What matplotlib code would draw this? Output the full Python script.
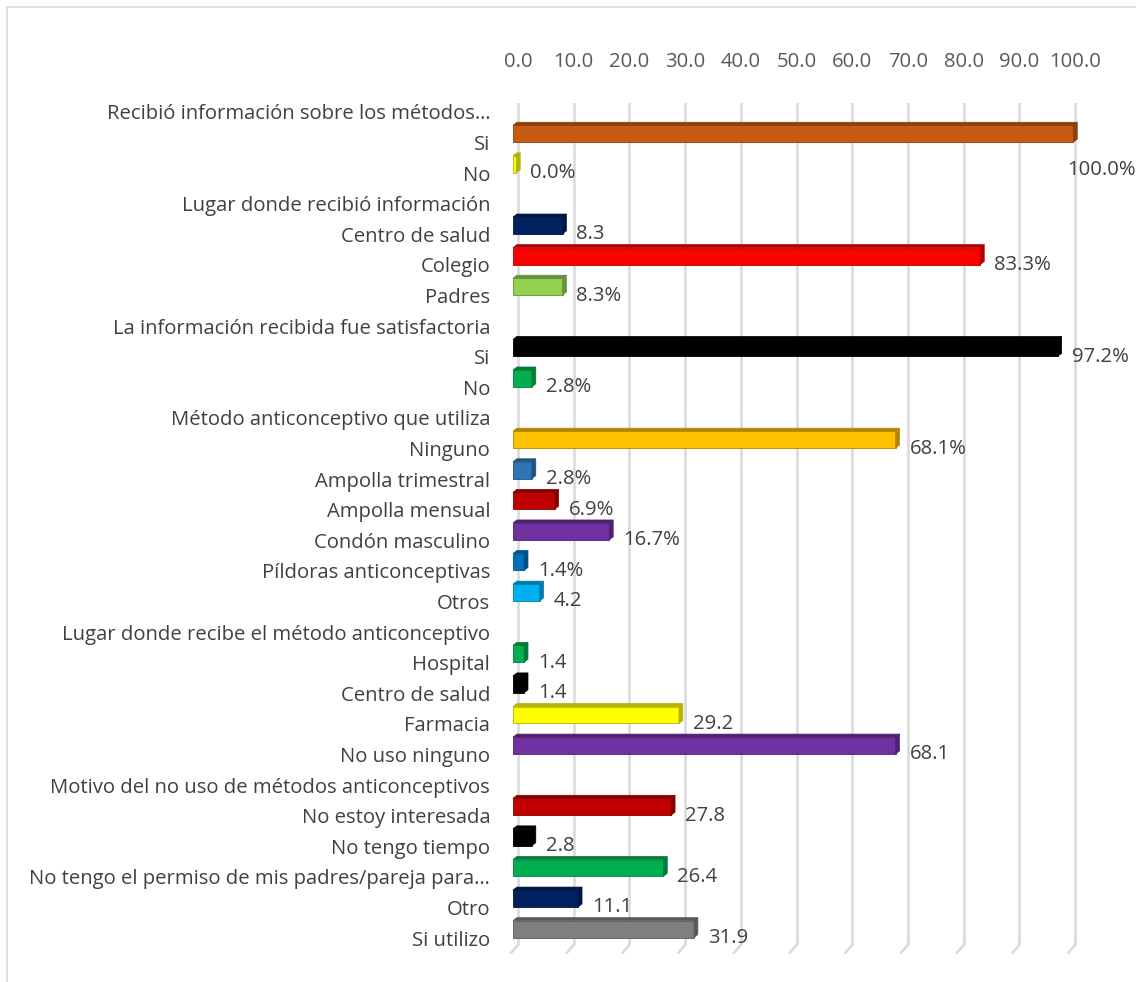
import matplotlib
matplotlib.use("Agg")
import matplotlib.pyplot as plt
from matplotlib.patches import Polygon, Rectangle
from matplotlib.lines import Line2D
import matplotlib.colors as mcolors

plt.rcParams['font.family'] = ['Open Sans', 'DejaVu Sans']

categories = [
    'Recibió información sobre los métodos…', 'Si', 'No',
    'Lugar donde recibió información', 'Centro de salud', 'Colegio', 'Padres',
    'La información recibida fue satisfactoria', 'Si', 'No',
    'Método anticonceptivo que utiliza', 'Ninguno', 'Ampolla trimestral',
    'Ampolla mensual', 'Condón masculino', 'Píldoras anticonceptivas', 'Otros',
    'Lugar donde recibe el método anticonceptivo', 'Hospital', 'Centro de salud',
    'Farmacia', 'No uso ninguno',
    'Motivo del no uso de métodos anticonceptivos', 'No estoy interesada',
    'No tengo tiempo', 'No tengo el permiso de mis padres/pareja para…',
    'Otro', 'Si utilizo',
]
# None = section header row (no bar)
values = [
    None, 100.0, 0.0,
    None, 8.3, 83.3, 8.3,
    None, 97.2, 2.8,
    None, 68.1, 2.8, 6.9, 16.7, 1.4, 4.2,
    None, 1.4, 1.4, 29.2, 68.1,
    None, 27.8, 2.8, 26.4, 11.1, 31.9,
]
labels = [
    None, '100.0%', '0.0%',
    None, '8.3', '83.3%', '8.3%',
    None, '97.2%', '2.8%',
    None, '68.1%', '2.8%', '6.9%', '16.7%', '1.4%', '4.2',
    None, '1.4', '1.4', '29.2', '68.1',
    None, '27.8', '2.8', '26.4', '11.1', '31.9',
]
colors = [
    None, '#C55A11', '#FFFF00',
    None, '#002060', '#FF0000', '#92D050',
    None, '#000000', '#00B050',
    None, '#FFC000', '#2E75B6', '#C00000', '#7030A0', '#0070C0', '#00B0F0',
    None, '#00B050', '#000000', '#FFFF00', '#7030A0',
    None, '#C00000', '#000000', '#00B050', '#002060', '#7F7F7F',
]
ticks = [0, 10, 20, 30, 40, 50, 60, 70, 80, 90, 100]

W, H = 1136, 982
fig = plt.figure(figsize=(W / 100, H / 100), dpi=100)
fig.patches.append(Rectangle((7 / W, -0.1), 1.2, 1 - 7 / H + 0.1,
                             transform=fig.transFigure, fill=False,
                             edgecolor='#D9D9D9', linewidth=1.2))

ax_l, ax_r = 512.4, 1080.6
ax_t, ax_b = 103, 945
ax = fig.add_axes([ax_l / W, 1 - ax_b / H, (ax_r - ax_l) / W, (ax_b - ax_t) / H])
row_px = (938 - 112) / 27
ax.set_xlim(-1, 101)
ax.set_ylim(27 + (ax_b - 938) / row_px, -(112 - ax_t) / row_px)

fs = 14.6
for s in ax.spines.values():
    s.set_visible(False)
ax.xaxis.tick_top()
ax.set_xticks(ticks)
ax.set_xticklabels([f'{t:.1f}' for t in ticks])
ax.tick_params(axis='x', length=0, pad=22, labelsize=fs, labelcolor='#595959')
ax.set_yticks(range(len(categories)))
ax.set_yticklabels(categories)
ax.tick_params(axis='y', length=0, pad=16, labelsize=fs, labelcolor='#404040')
ax.grid(axis='x', color='#D9D9D9', linewidth=1.8)
ax.set_axisbelow(True)

# little floor stubs at the foot of each gridline
y_end = ax.get_ylim()[0]
for t in ticks:
    ax.add_line(Line2D([t, t - 1.2], [y_end, y_end + 0.25], color='#D9D9D9',
                       linewidth=1.8, clip_on=False))

bar_h = 0.55
shift = -0.29
dx, dy = 0.7, 0.1
left = -0.9
for i, (v, lab, c) in enumerate(zip(values, labels, colors)):
    if v is None:
        continue
    yc = i + shift
    top, bot = yc - bar_h / 2, yc + bar_h / 2
    dark = [x * 0.7 for x in mcolors.to_rgb(c)]
    end = max(v - 0.3, left + 0.3)
    ax.barh(yc, end - left, left=left, height=bar_h, color=c,
            edgecolor=dark, linewidth=0.6, zorder=3)
    # top face and end face of the prism
    ax.add_patch(Polygon([(left, top), (left + dx, top - dy), (end + dx, top - dy), (end, top)],
                         closed=True, facecolor=dark, edgecolor=dark, linewidth=0.5, zorder=3))
    ax.add_patch(Polygon([(end, top), (end + dx, top - dy), (end + dx, bot - dy), (end, bot)],
                         closed=True, facecolor=dark, edgecolor=dark, linewidth=0.5, zorder=3))
    if v >= 99:
        # no room to the right of a full bar: tuck the label underneath its end
        ax.text(v - 1.4, i + 0.88, lab, ha='left', va='center', fontsize=fs,
                color='#404040', zorder=4)
    else:
        ax.text(v + 2.2, i, lab, ha='left', va='center', fontsize=fs,
                color='#404040', zorder=4)

fig.savefig('out.png', dpi=100)
